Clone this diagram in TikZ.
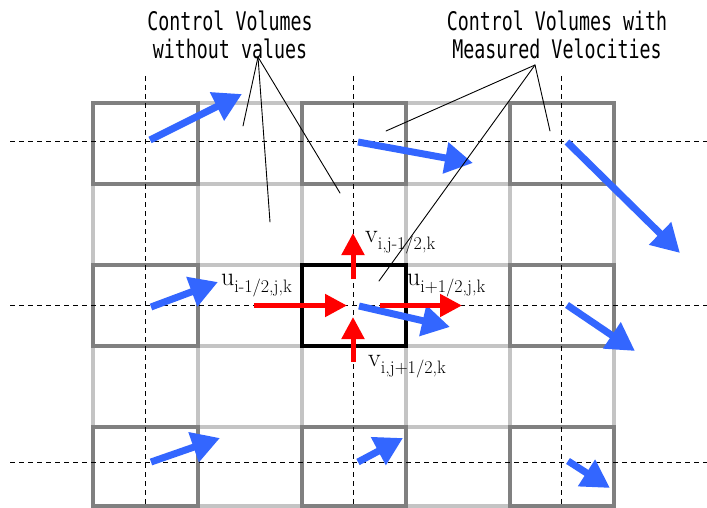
\documentclass[tikz,border=0pt]{standalone}
\usepackage{fontspec}
\usepackage{graphicx}
\usepackage{tikz}
\usetikzlibrary{arrows.meta}
\newfontfamily\cvfont{DejaVu Sans Mono}
\definecolor{gridgrey}{HTML}{C4C4C4}
\definecolor{boxgrey}{HTML}{808080}
\definecolor{flowblue}{HTML}{3366FF}
\definecolor{fluxred}{HTML}{FF0000}
\newcommand{\cvtitle}[2]{\scalebox{1}[1.4]{\begin{tabular}{@{}c@{}}#1\\#2\end{tabular}}}
\newcommand{\facevel}[2]{#1\raisebox{-7pt}{\fontsize{18}{18}\selectfont #2}}
\tikzset{
  gridline/.style={draw=gridgrey, line width=4pt},
  cvbox/.style={draw=boxgrey, line width=4pt},
  cellbox/.style={draw=black, line width=4pt},
  axisline/.style={draw=black, dashed, dash pattern=on 5pt off 4pt, line width=1pt},
  flow/.style={draw=flowblue, line width=7pt, -{Triangle[length=28pt,width=30pt]}},
  flux/.style={draw=fluxred, line width=5pt, -{Triangle[length=22pt,width=22pt]}},
  pointer/.style={draw=black, line width=0.9pt, line cap=round},
  cvlab/.style={font=\cvfont\fontsize{18.3}{19.3}\selectfont, inner sep=0pt, anchor=north},
  facelab/.style={font=\fontsize{26}{30}\selectfont, inner sep=0pt, anchor=base west},
}
\begin{document}
\begin{tikzpicture}[x=1pt,y=-1pt]
\useasboundingbox (0,0) rectangle (707,508);

% full grid of cells
\foreach \x in {93,197.5,302,406,510,614}{
  \draw[gridline] (\x,103) -- (\x,506);
}
\foreach \y in {103,184,265,346,427,506}{
  \draw[gridline] (93,\y) -- (614,\y);
}
% control volumes
\foreach \xa/\xb in {93/197.5,302/406,510/614}{
  \foreach \ya/\yb in {103/184,265/346,427/506}{
    \draw[cvbox] (\xa,\ya) rectangle (\xb,\yb);
  }
}
\draw[cellbox] (302,265) rectangle (406,346);

% centre lines
\foreach \y in {141.5,305.5,462}{
  \draw[axisline] (10,\y) -- (707,\y);
}
\foreach \x in {145,353,561}{
  \draw[axisline] (\x,76) -- (\x,508);
}

% measured velocities
\foreach \n/\sx/\sy/\ex/\ey in {a/150/140/242/94, b/358/142/473/163, c/567/142/680/253,
                                d/151/307/218/282, e/359/306/450/327, f/567/305/635/351,
                                g/151/462/220/438, h/358/462/403/438, k/568/461/610/488}{
  \coordinate (vs\n) at (\sx,\sy);
  \coordinate (ve\n) at (\ex,\ey);
  \draw[flow] (vs\n) -- (ve\n);
}

% face velocities
\coordinate (uwS) at (254,305.5);
\coordinate (uwE) at (347,305.5);
\coordinate (ueS) at (380,305.5);
\coordinate (ueE) at (462,305.5);
\coordinate (vnS) at (353,279);
\coordinate (vnE) at (353,233);
\coordinate (vsS) at (353,362);
\coordinate (vsE) at (353,317);
\draw[flux] (uwS) -- (uwE);
\draw[flux] (ueS) -- (ueE);
\draw[flux] (vnS) -- (vnE);
\draw[flux] (vsS) -- (vsE);

\node[facelab] (vn) at (365,242) {\facevel{v}{i,j-1/2,k}};
\node[facelab] (uw) at (221,285) {\facevel{u}{i-1/2,j,k}};
\node[facelab] (ue) at (407,285) {\facevel{u}{i+1/2,j,k}};
\node[facelab] (vs) at (368,366) {\facevel{v}{i,j+1/2,k}};

% annotations
\node[cvlab] (empty) at (230,11) {\cvtitle{Control Volumes}{without values}};
\node[cvlab] (measured) at (557,11) {\cvtitle{Control Volumes with}{Measured Velocities}};

\coordinate (emptyA) at (258,57);
\coordinate (emptyB) at (535,65);
\foreach \p/\q in {243/126, 270/222, 340/193}{
  \draw[pointer] (emptyA) -- (\p,\q);
}
\foreach \p/\q in {386/131, 550/131, 379/281}{
  \draw[pointer] (emptyB) -- (\p,\q);
}
\end{tikzpicture}
\end{document}
